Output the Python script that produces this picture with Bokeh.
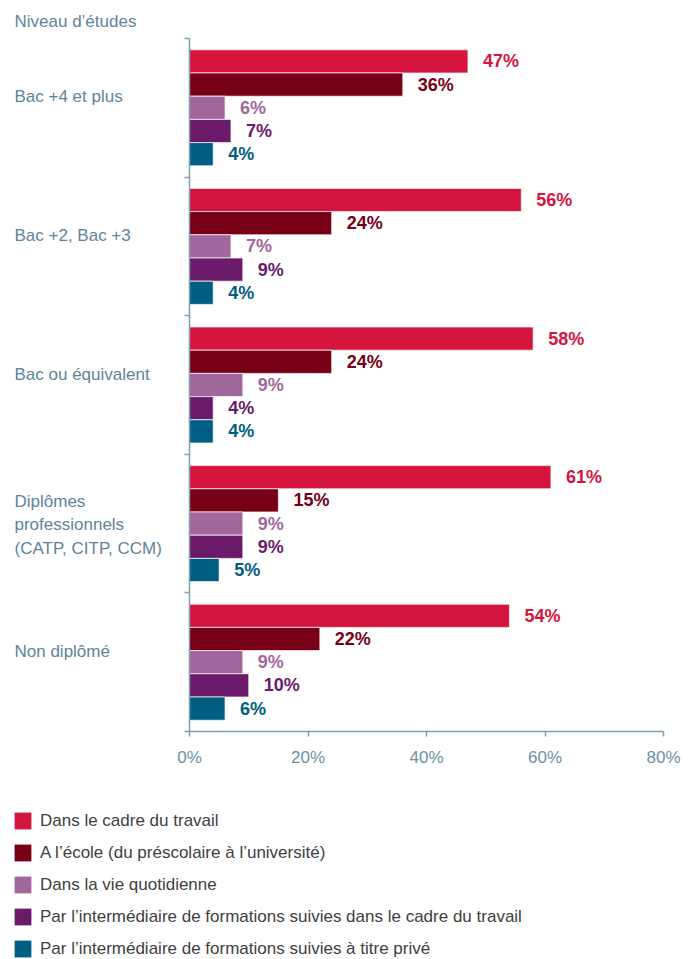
from bokeh.plotting import figure
from bokeh.layouts import column, row
from bokeh.models import (ColumnDataSource, Range1d, LinearAxis, FixedTicker,
                          PrintfTickFormatter, Legend, LegendItem)
from bokeh.core.properties import value
from bokeh.embed import file_html
from bokeh.resources import INLINE

# ---------------- data ----------------
title_text = "Niveau d’études"
categories = ["Bac +4 et plus", "Bac +2, Bac +3", "Bac ou équivalent",
              "Diplômes\nprofessionnels\n(CATP, CITP, CCM)", "Non diplômé"]
series_names = ["Dans le cadre du travail",
                "A l’école (du préscolaire à l’université)",
                "Dans la vie quotidienne",
                "Par l’intermédiaire de formations suivies dans le cadre du travail",
                "Par l’intermédiaire de formations suivies à titre privé"]
travail = [47, 56, 58, 61, 54]
ecole = [36, 24, 24, 15, 22]
quotidien = [6, 7, 9, 9, 9]
formation_travail = [7, 9, 4, 9, 10]
formation_prive = [4, 4, 4, 5, 6]
x_ticks = [0, 20, 40, 60, 80]

# ---------------- style ----------------
FONT = "Liberation Sans"
colors = ["#d6153f", "#780016", "#a1679c", "#6b1a6a", "#005e82"]
CAT_COLOR = "#5e8499"
AXIS_COLOR = "#7f9fae"
TICK_COLOR = "#6b91a4"
LEGEND_COLOR = "#404040"
FS = "17px"
FS_VAL = "18px"
BAR_H = 0.1674
LEFT_W = 176

series = [travail, ecole, quotidien, formation_travail, formation_prive]
n = len(categories)

bar = dict(y=[], right=[], color=[], label=[])
for i in range(n):
    yc = n - i - 0.5
    for j, vals in enumerate(series):
        bar["y"].append(yc + (2 - j) * BAR_H)
        bar["right"].append(vals[i])
        bar["color"].append(colors[j])
        bar["label"].append(f"{vals[i]}%")
bar_src = ColumnDataSource(bar)

cat_src = ColumnDataSource(dict(
    x=[0] * n,
    y=[n - i - 0.5 for i in range(n)],
    text=categories,
    yoff=[1 if "\n" in c else -11 for c in categories],
))

y_range = Range1d(0, n)
H_TOP = 780

# ---------------- left label figure ----------------
left = figure(width=LEFT_W, height=H_TOP, x_range=Range1d(0, LEFT_W), y_range=y_range,
              min_border_left=0, min_border_right=0, min_border_top=38,
              min_border_bottom=49, x_axis_location=None, y_axis_location=None,
              output_backend="svg", toolbar_location=None, outline_line_color=None)
left.grid.visible = False
left.title.text = title_text
left.title.align = "left"
left.title.offset = 14
left.title.standoff = 15
left.title.text_font = FONT
left.title.text_font_size = FS
left.title.text_font_style = "normal"
left.title.text_color = CAT_COLOR
left.text(x="x", y="y", text="text", source=cat_src, x_offset=14, y_offset="yoff",
          text_font=value(FONT), text_font_size=FS, text_color=CAT_COLOR,
          text_baseline="middle", text_align="left", text_line_height=1.24)

# ---------------- main chart ----------------
main = figure(width=691 - LEFT_W, height=H_TOP, x_range=Range1d(0, 80), y_range=y_range,
              min_border_left=189 - LEFT_W, min_border_right=28, min_border_top=38,
              min_border_bottom=49, x_axis_location=None, y_axis_location=None,
              output_backend="svg", toolbar_location=None, outline_line_color=None)
main.grid.visible = False

main.hbar(y="y", right="right", left=0, height=BAR_H, source=bar_src,
          fill_color="color", line_color="white", line_width=0.7)
main.text(x="right", y="y", text="label", source=bar_src, x_offset=15,
          text_color="color", text_font=value(FONT), text_font_size=FS_VAL,
          text_font_style="bold", text_baseline="middle", text_align="left")

xaxis = LinearAxis(ticker=FixedTicker(ticks=x_ticks),
                   formatter=PrintfTickFormatter(format="%d%%"))
xaxis.axis_line_color = AXIS_COLOR
xaxis.axis_line_width = 1.5
xaxis.major_tick_line_color = AXIS_COLOR
xaxis.major_tick_line_width = 1.5
xaxis.major_tick_out = 5
xaxis.major_tick_in = 0
xaxis.minor_tick_line_color = None
xaxis.major_label_text_font = FONT
xaxis.major_label_text_font_size = FS
xaxis.major_label_text_color = TICK_COLOR
xaxis.major_label_standoff = 11
main.add_layout(xaxis, "below")

yaxis = LinearAxis(ticker=FixedTicker(ticks=list(range(n + 1))))
yaxis.axis_line_color = AXIS_COLOR
yaxis.axis_line_width = 1.5
yaxis.major_tick_line_color = AXIS_COLOR
yaxis.major_tick_line_width = 1.5
yaxis.major_tick_out = 5
yaxis.major_tick_in = 0
yaxis.minor_tick_line_color = None
yaxis.major_label_text_color = None
yaxis.major_label_standoff = 0
main.add_layout(yaxis, "left")

# ---------------- legend figure ----------------
leg = figure(width=691, height=959 - H_TOP, x_range=Range1d(0, 1), y_range=Range1d(0, 1),
             min_border_left=0, min_border_right=0, min_border_top=0, min_border_bottom=0,
             x_axis_location=None, y_axis_location=None, output_backend="svg",
             toolbar_location=None, outline_line_color=None)
leg.grid.visible = False
items = []
for name, c in zip(series_names, colors):
    # placeholder glyph outside the visible range, only used for the legend swatch
    r = leg.hbar(y=[-5], right=[1], left=0, height=0.1, fill_color=c, line_color=None)
    items.append(LegendItem(label=name, renderers=[r]))
legend = Legend(items=items, location=(12, 0), orientation="vertical",
                glyph_width=21, glyph_height=21, label_height=21, spacing=11,
                label_standoff=7, padding=0, margin=0,
                border_line_color=None, background_fill_alpha=0,
                label_text_font=FONT, label_text_font_size=FS,
                label_text_color=LEGEND_COLOR)
leg.add_layout(legend)

layout = column(row(left, main), leg)
open("out.html", "w").write(file_html(layout, INLINE))
